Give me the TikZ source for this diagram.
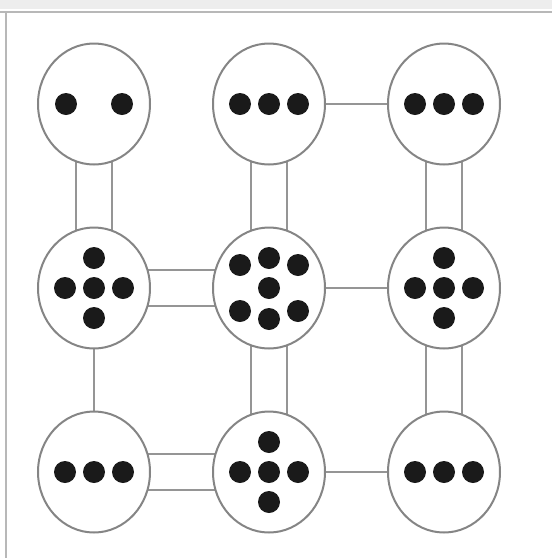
\documentclass[tikz,border=0pt]{standalone}
\usepackage{xcolor}
\usepackage{tikz}
\usetikzlibrary{positioning, shapes.geometric, backgrounds}

\definecolor{rimgray}{HTML}{858585}
\definecolor{linkgray}{HTML}{959595}
\definecolor{pipblack}{HTML}{1A1A1A}
\definecolor{framegray}{HTML}{B8B8B8}
\definecolor{framefill}{HTML}{EDEDED}

\begin{document}
\begin{tikzpicture}[
    x=1pt, y=1pt,
    node distance=61pt,
    cell/.style={
        ellipse,
        draw=rimgray,
        fill=white,
        minimum width=112pt,
        minimum height=121pt,
        inner sep=0pt,
        line width=2pt
    },
    link/.style={
        draw=linkgray,
        line width=2pt
    },
    twin/.style={
        draw=linkgray,
        line width=2pt,
        double=white,
        double distance=34pt
    },
    pip/.style={
        fill=pipblack
    }
]
\useasboundingbox (0,0) rectangle (552,-558);

% Frame
\fill[framefill] (0,0) rectangle (552,-9);
\draw[framegray, line width=2.5pt] (0,-12) -- (552,-12);
\draw[framegray, line width=2pt] (6,-12) -- (6,-558);

% Top row
\node[cell] (tl) at (94,-104) {};
\node[cell, right=of tl] (tc) {};
\node[cell, right=of tc] (tr) {};

% Middle row
\node[cell, below=of tl] (ml) {};
\node[cell, below=of tc] (mc) {};
\node[cell, below=of tr] (mr) {};

% Bottom row
\node[cell, below=of ml] (bl) {};
\node[cell, below=of mc] (bc) {};
\node[cell, below=of mr] (br) {};

% Connectors
\begin{scope}[on background layer]
\draw[twin] (tl.center) -- (ml.center);
\draw[twin] (tc.center) -- (mc.center);
\draw[twin] (tr.center) -- (mr.center);
\draw[twin] (ml.center) -- (mc.center);
\draw[twin] (mc.center) -- (bc.center);
\draw[twin] (mr.center) -- (br.center);
\draw[twin] (bl.center) -- (bc.center);
\draw[link] (tc.center) -- (tr.center);
\draw[link] (mc.center) -- (mr.center);
\draw[link] (ml.center) -- (bl.center);
\draw[link] (bc.center) -- (br.center);
\end{scope}

% Dots
\foreach \dx/\dy in {-28/0, 28/0}
    \fill[pip] ([shift={(\dx,\dy)}]tl.center) circle[radius=11];
\foreach \cellname in {tc, tr, bl, br}
    \foreach \dx/\dy in {-29/0, 0/0, 29/0}
        \fill[pip] ([shift={(\dx,\dy)}]\cellname.center) circle[radius=11];
\foreach \cellname in {ml, mr, bc}
    \foreach \dx/\dy in {0/30, -29/0, 0/0, 29/0, 0/-30}
        \fill[pip] ([shift={(\dx,\dy)}]\cellname.center) circle[radius=11];
\foreach \dx/\dy in {-29/23, -29/-23, 0/30, 0/0, 0/-31, 29/23, 29/-23}
    \fill[pip] ([shift={(\dx,\dy)}]mc.center) circle[radius=11];

\end{tikzpicture}
\end{document}
